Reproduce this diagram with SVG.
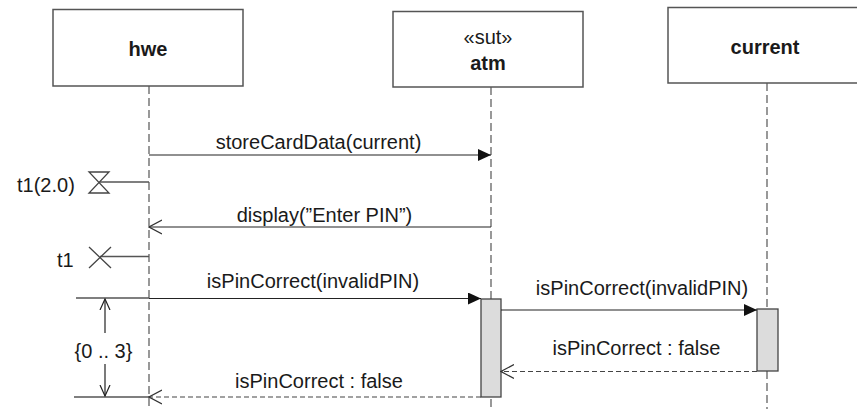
<svg xmlns="http://www.w3.org/2000/svg" width="857" height="409" viewBox="0 0 857 409">
<style>
text{font-family:"Liberation Sans",Arial,sans-serif;font-size:20px;fill:#1a1a1a}
.b{font-weight:bold}
.box{fill:#fff;stroke:#555;stroke-width:1.5}
.life{stroke:#555;stroke-width:1.2;stroke-dasharray:8 4;fill:none}
.msg{stroke:#222;stroke-width:1.2;fill:none}
.ret{stroke:#444;stroke-width:1.2;stroke-dasharray:5 3;fill:none}
.act{fill:#dcdcdc;stroke:#444;stroke-width:1.3}
.g{stroke:#555;stroke-width:1.5;fill:none}
</style>
<defs>
<marker id="fill" markerWidth="14" markerHeight="12" refX="13" refY="6" orient="auto" markerUnits="userSpaceOnUse">
<path d="M0,0 L13,6 L0,12 Z" fill="#111"/>
</marker>
<marker id="open" markerWidth="14" markerHeight="16" refX="13" refY="8" orient="auto" markerUnits="userSpaceOnUse">
<path d="M0,1 L13,8 L0,15" fill="none" stroke="#333" stroke-width="1.2"/>
</marker>
<marker id="dim" markerWidth="12" markerHeight="12" refX="11" refY="6" orient="auto" markerUnits="userSpaceOnUse">
<path d="M0,1 L11,6 L0,11" fill="none" stroke="#222" stroke-width="1.2"/>
</marker>
</defs>

<g id="hwe">
<line class="life" x1="149" y1="86" x2="149" y2="409"/>
<rect class="box" x="53" y="9.5" width="190" height="76.5"/>
<text class="b" x="148" y="56" text-anchor="middle">hwe</text>
</g>
<g id="atm">
<line class="life" x1="491" y1="87" x2="491" y2="409"/>
<rect class="box" x="393" y="11.5" width="190" height="75.5"/>
<text x="488" y="44" text-anchor="middle">«sut»</text>
<text class="b" x="488" y="70" text-anchor="middle">atm</text>
<rect class="act" x="481" y="299" width="20" height="98"/>
</g>
<g id="current">
<line class="life" x1="767" y1="83" x2="767" y2="409"/>
<rect class="box" x="668" y="7.5" width="200" height="75.5"/>
<text class="b" x="765" y="54" text-anchor="middle">current</text>
<rect class="act" x="757" y="309" width="21" height="62"/>
</g>

<g id="t1-start">
<line class="g" x1="99" y1="182" x2="149" y2="182"/>
<path d="M89,172 L109,172 L89,193 L109,193 Z" fill="#fff" stroke="#444" stroke-width="1.3"/>
<text x="17" y="192">t1(2.0)</text>
</g>
<g id="t1-end">
<line class="g" x1="100" y1="256.5" x2="149" y2="256.5"/>
<path d="M89,247 L111,268 M111,247 L89,268" stroke="#444" stroke-width="1.3"/>
<text x="57" y="267">t1</text>
</g>

<g id="duration">
<line class="g" x1="76" y1="298" x2="149" y2="298"/>
<line class="g" x1="74" y1="397" x2="149" y2="397"/>
<line class="msg" x1="105" y1="333" x2="105" y2="299" marker-end="url(#dim)"/>
<line class="msg" x1="105" y1="364" x2="105" y2="396" marker-end="url(#dim)"/>
<text x="103.5" y="358" text-anchor="middle">{0 .. 3}</text>
</g>

<g id="connectors">
<line class="msg" x1="149" y1="155" x2="491" y2="155" marker-end="url(#fill)"/>
<text x="318.5" y="149" text-anchor="middle">storeCardData(current)</text>
<line class="msg" x1="491" y1="227" x2="149" y2="227" marker-end="url(#open)"/>
<text x="324.5" y="222" text-anchor="middle">display(”Enter PIN”)</text>
<line class="msg" x1="149" y1="298.5" x2="481" y2="298.5" marker-end="url(#fill)"/>
<text x="313" y="288" text-anchor="middle">isPinCorrect(invalidPIN)</text>
<line class="msg" x1="501" y1="310" x2="757" y2="310" marker-end="url(#fill)"/>
<text x="642" y="295" text-anchor="middle">isPinCorrect(invalidPIN)</text>
<line class="ret" x1="757" y1="371.5" x2="501" y2="371.5" marker-end="url(#open)"/>
<text x="636.5" y="355" text-anchor="middle">isPinCorrect : false</text>
<line class="ret" x1="481" y1="397" x2="149" y2="397" marker-end="url(#open)"/>
<text x="319" y="388" text-anchor="middle">isPinCorrect : false</text>
</g>
</svg>
